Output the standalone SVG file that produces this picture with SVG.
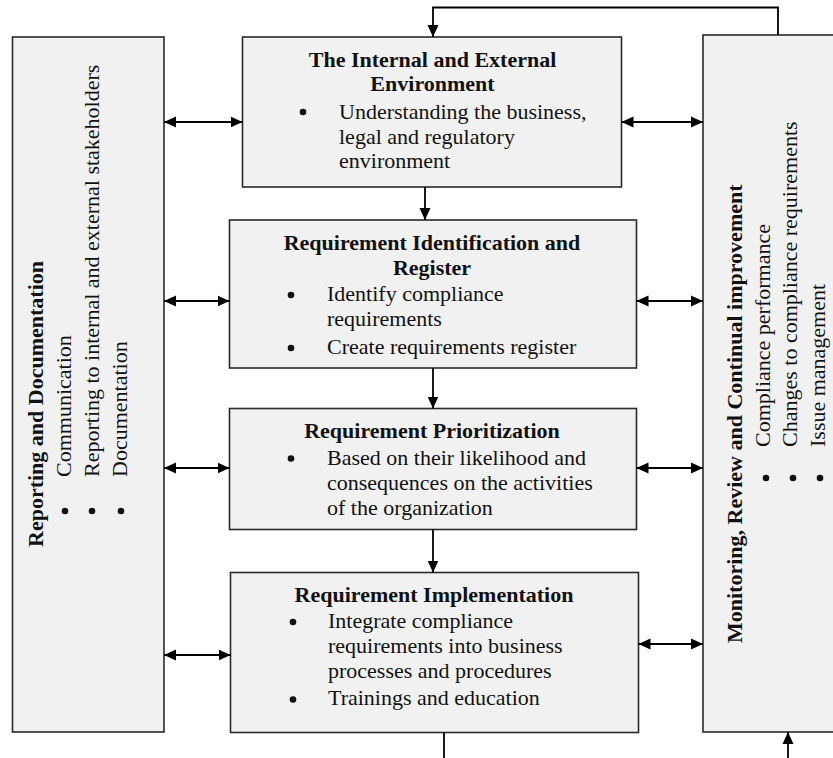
<svg xmlns="http://www.w3.org/2000/svg" width="833" height="758" viewBox="0 0 833 758">
  <defs>
    <marker id="arrow" markerUnits="userSpaceOnUse" markerWidth="12" markerHeight="12" refX="12" refY="6" orient="auto-start-reverse">
      <path d="M0,0.5 L12,6 L0,11.5 z" fill="#000"/>
    </marker>
    <style>
      .box { fill: #f1f1f1; stroke: #2a2a2a; stroke-width: 1.6; }
      .t { font-family: "Liberation Serif", "Times New Roman", serif; font-size: 22px; fill: #111; }
      .b { font-weight: bold; }
      .c { text-anchor: middle; }
      .dot { fill: #111; }
      .link { fill: none; stroke: #000; stroke-width: 1.8; }
      .arr { marker-end: url(#arrow); }
      .dbl { marker-start: url(#arrow); marker-end: url(#arrow); }
    </style>
  </defs>

  <rect width="833" height="758" fill="#fff"/>

  <!-- Left column: reporting and documentation (vertical text) -->
  <g id="reporting">
    <rect class="box" x="12.5" y="37" width="151.5" height="695"/>
    <circle class="dot" cx="65" cy="511" r="3.3"/>
    <circle class="dot" cx="92" cy="511" r="3.3"/>
    <circle class="dot" cx="121" cy="511" r="3.3"/>
    <g transform="rotate(-90)">
      <text class="t b" x="-547" y="43">Reporting and Documentation</text>
      <text class="t" x="-477" y="71">Communication</text>
      <text class="t" x="-477" y="99">Reporting to internal and external stakeholders</text>
      <text class="t" x="-477" y="127">Documentation</text>
    </g>
  </g>

  <!-- Right column: monitoring and review (vertical text) -->
  <g id="monitoring">
    <rect class="box" x="703" y="35" width="140" height="697"/>
    <circle class="dot" cx="766" cy="478" r="3.3"/>
    <circle class="dot" cx="793" cy="478" r="3.3"/>
    <circle class="dot" cx="820" cy="478" r="3.3"/>
    <g transform="rotate(-90)">
      <text class="t b" x="-643" y="742">Monitoring, Review and Continual improvement</text>
      <text class="t" x="-447" y="770">Compliance performance</text>
      <text class="t" x="-447" y="797">Changes to compliance requirements</text>
      <text class="t" x="-447" y="825">Issue management</text>
    </g>
  </g>

  <!-- Process steps -->
  <g id="environment">
    <rect class="box" x="242.5" y="37" width="379" height="150"/>
    <text class="t b c" x="432.5" y="67">The Internal and External</text>
    <text class="t b c" x="432.5" y="91">Environment</text>
    <circle class="dot" cx="303" cy="112" r="3.3"/>
    <text class="t" x="339" y="119">Understanding the business,</text>
    <text class="t" x="339" y="143.5">legal and regulatory</text>
    <text class="t" x="339" y="168">environment</text>
  </g>

  <g id="identification">
    <rect class="box" x="229.5" y="220" width="407" height="148"/>
    <text class="t b c" x="432" y="250">Requirement Identification and</text>
    <text class="t b c" x="432" y="275">Register</text>
    <circle class="dot" cx="291" cy="295" r="3.3"/>
    <text class="t" x="327" y="301">Identify compliance</text>
    <text class="t" x="327" y="326">requirements</text>
    <circle class="dot" cx="291" cy="348" r="3.3"/>
    <text class="t" x="327" y="354">Create requirements register</text>
  </g>

  <g id="prioritization">
    <rect class="box" x="229.5" y="408.5" width="407" height="121"/>
    <text class="t b c" x="432" y="438">Requirement Prioritization</text>
    <circle class="dot" cx="291" cy="458.5" r="3.3"/>
    <text class="t" x="327" y="465">Based on their likelihood and</text>
    <text class="t" x="327" y="490">consequences on the activities</text>
    <text class="t" x="327" y="515">of the organization</text>
  </g>

  <g id="implementation">
    <rect class="box" x="230.5" y="572.5" width="408" height="160"/>
    <text class="t b c" x="434" y="602">Requirement Implementation</text>
    <circle class="dot" cx="293" cy="622" r="3.3"/>
    <text class="t" x="328" y="628">Integrate compliance</text>
    <text class="t" x="328" y="653">requirements into business</text>
    <text class="t" x="328" y="678">processes and procedures</text>
    <circle class="dot" cx="293" cy="699.5" r="3.3"/>
    <text class="t" x="328" y="705">Trainings and education</text>
  </g>

  <!-- Connectors -->
  <g id="connectors">
    <!-- flow down the steps -->
    <line class="link arr" x1="425" y1="187" x2="425" y2="220"/>
    <line class="link arr" x1="433" y1="368" x2="433" y2="408.5"/>
    <line class="link arr" x1="433" y1="529.5" x2="433" y2="572.5"/>

    <!-- exchanges with the reporting column -->
    <line class="link dbl" x1="164" y1="122" x2="242.5" y2="122"/>
    <line class="link dbl" x1="164" y1="301" x2="229.5" y2="301"/>
    <line class="link dbl" x1="164" y1="468" x2="229.5" y2="468"/>
    <line class="link dbl" x1="164" y1="655" x2="230.5" y2="655"/>

    <!-- exchanges with the monitoring column -->
    <line class="link dbl" x1="621.5" y1="122" x2="703" y2="122"/>
    <line class="link dbl" x1="636.5" y1="301" x2="703" y2="301"/>
    <line class="link dbl" x1="636.5" y1="468" x2="703" y2="468"/>
    <line class="link dbl" x1="638.5" y1="644" x2="703" y2="644"/>

    <!-- feedback loop from monitoring back to the environment -->
    <polyline class="link arr" points="778,35 778,7.5 433,7.5 433,37"/>

    <!-- lines leaving the bottom edge -->
    <line class="link" x1="444" y1="732.5" x2="444" y2="758"/>
    <line class="link arr" x1="788" y1="758" x2="788" y2="732"/>
  </g>
</svg>
